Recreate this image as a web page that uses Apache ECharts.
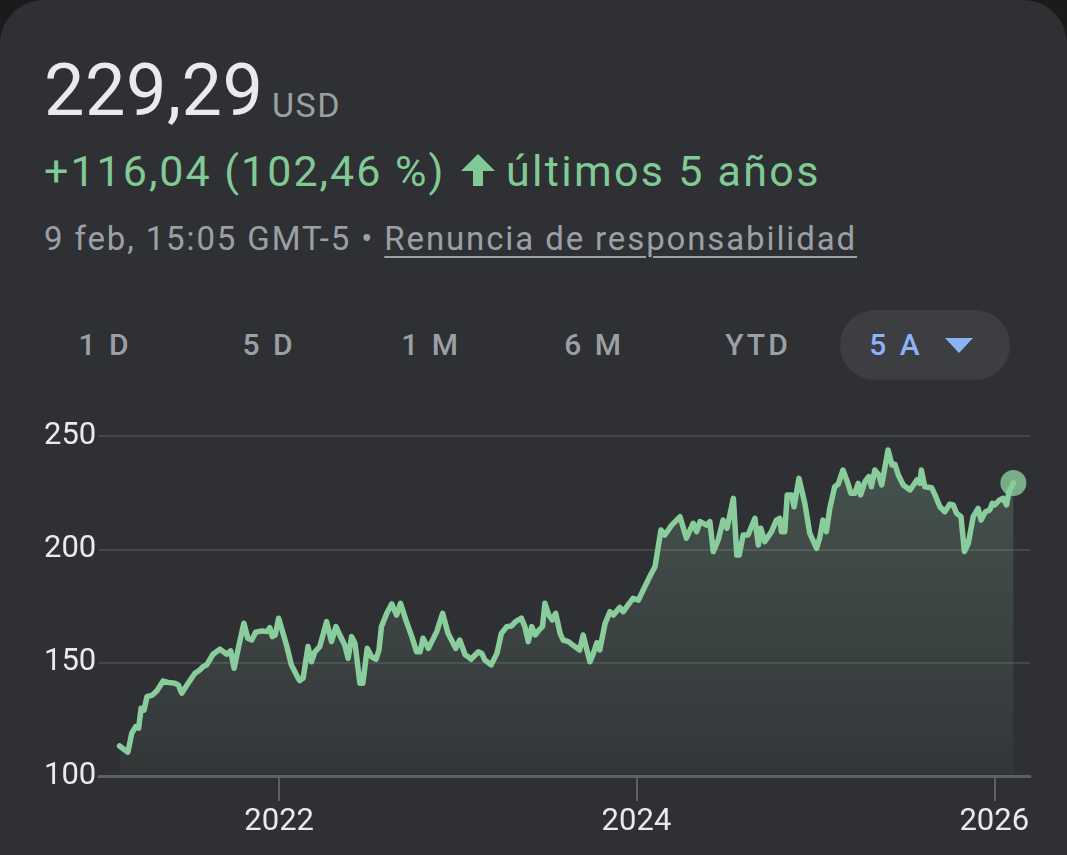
<!DOCTYPE html>
<html>
<head>
<meta charset="utf-8">
<script src="https://cdn.jsdelivr.net/npm/echarts@6/dist/echarts.min.js"></script>
<style>
  html, body { margin:0; padding:0; width:1067px; height:855px; background:#1b1b1c; overflow:hidden; }
  #card { position:absolute; left:0; top:0; width:1067px; height:855px; background:#2f3034; border-radius:44px 44px 0 0; font-family: Roboto, "Noto Sans", sans-serif; }
  .t { position:absolute; white-space:nowrap; line-height:1; }
  #chart { position:absolute; left:0; top:0; width:1067px; height:855px; }
  .btn { position:absolute; top:330px; font-size:30px; line-height:1; letter-spacing:3px; color:#9aa0a6; font-weight:500; transform:translateX(-50%); white-space:nowrap; }
  #pill { position:absolute; left:840px; top:310px; width:170px; height:70px; border-radius:35px; background:#3c3e42; }
  #tri { position:absolute; left:945px; top:338px; width:0; height:0; border-left:14px solid transparent; border-right:14px solid transparent; border-top:15px solid #8ab4f8; }
</style>
</head>
<body>
<div id="card">
  <div class="t" style="left:44px; top:55px; font-size:72px; color:#e8eaed; letter-spacing:0.5px;">229,29</div>
  <div class="t" style="left:272px; top:88px; font-size:34px; color:#9aa0a6; letter-spacing:1.5px;">USD</div>
  <div class="t" style="left:44px; top:150px; font-size:43px; color:#81c995; letter-spacing:2px;">+116,04 (102,46 %)</div>
  <svg style="position:absolute; left:460px; top:152px;" width="36" height="36" viewBox="0 0 36 36"><polygon fill="#81c995" points="18,2 35,19 23,19 23,34 13,34 13,19 1,19"/></svg>
  <div class="t" style="left:506px; top:150px; font-size:43px; color:#81c995; letter-spacing:2.3px;">últimos 5 años</div>
  <div class="t" style="left:44px; top:222px; font-size:33px; color:#9aa0a6; letter-spacing:1.88px;">9 feb, 15:05 GMT-5 • <span style="text-decoration:underline; text-decoration-thickness:2px; text-underline-offset:6px;">Renuncia de responsabilidad</span></div>
  <div id="pill"></div>
  <div class="btn" style="left:105px;">1 D</div>
  <div class="btn" style="left:269px;">5 D</div>
  <div class="btn" style="left:431px;">1 M</div>
  <div class="btn" style="left:594px;">6 M</div>
  <div class="btn" style="left:758px;">YTD</div>
  <div class="btn" style="left:896px; color:#8ab4f8;">5 A</div>
  <div id="tri"></div>
  <div id="chart"></div>
</div>
<script>
const dates = [
 '2021-02-09','2021-02-26','2021-03-06','2021-03-14','2021-03-20','2021-03-25','2021-03-31','2021-04-06','2021-04-17','2021-04-26',
 '2021-05-09','2021-05-19','2021-06-02','2021-06-09','2021-06-16','2021-06-26','2021-07-13','2021-07-23','2021-07-30','2021-08-06',
 '2021-08-19','2021-09-02','2021-09-16','2021-09-24','2021-10-01','2021-10-11','2021-10-21','2021-10-29','2021-11-06','2021-11-14',
 '2021-11-27','2021-12-07','2021-12-13','2021-12-18','2021-12-24','2021-12-31','2022-01-16','2022-01-26','2022-02-09','2022-02-12',
 '2022-02-19','2022-03-01','2022-03-08','2022-03-15','2022-03-25','2022-04-08','2022-04-18','2022-04-27','2022-05-05','2022-05-15',
 '2022-05-22','2022-05-29','2022-06-05','2022-06-15','2022-06-21','2022-06-30','2022-07-09','2022-07-18','2022-07-24','2022-07-29',
 '2022-08-09','2022-08-19','2022-08-29','2022-09-06','2022-09-17','2022-09-29','2022-10-09','2022-10-16','2022-10-22','2022-11-02',
 '2022-11-19','2022-12-01','2022-12-12','2022-12-28','2023-01-05','2023-01-16','2023-01-22','2023-01-28','2023-02-12','2023-02-19',
 '2023-02-25','2023-03-10','2023-03-22','2023-03-31','2023-04-11','2023-04-21','2023-04-29','2023-05-11','2023-05-18','2023-05-25',
 '2023-06-01','2023-06-08','2023-06-16','2023-06-23','2023-06-28','2023-07-06','2023-07-13','2023-07-20','2023-07-29','2023-08-04',
 '2023-08-15','2023-08-28','2023-09-07','2023-09-14','2023-09-28','2023-10-05','2023-10-12','2023-10-18','2023-10-29','2023-11-08',
 '2023-11-15','2023-11-28','2023-12-05','2023-12-15','2023-12-25','2024-01-05','2024-01-15','2024-01-28','2024-02-08','2024-02-20',
 '2024-02-28','2024-03-13','2024-03-30','2024-04-12','2024-04-26','2024-05-03','2024-05-10','2024-05-23','2024-05-30','2024-06-06',
 '2024-06-16','2024-06-26','2024-07-04','2024-07-17','2024-07-20','2024-07-24','2024-07-29','2024-08-06','2024-08-16','2024-08-30',
 '2024-09-06','2024-09-11','2024-09-19','2024-10-03','2024-10-13','2024-10-20','2024-10-23','2024-10-30','2024-11-04','2024-11-13',
 '2024-11-18','2024-11-28','2024-12-10','2024-12-20','2025-01-03','2025-01-10','2025-01-16','2025-01-23','2025-01-30','2025-02-09',
 '2025-02-16','2025-02-26','2025-03-08','2025-03-14','2025-03-22','2025-03-29','2025-04-03','2025-04-12','2025-04-20','2025-04-25',
 '2025-05-02','2025-05-10','2025-05-16','2025-05-29','2025-06-06','2025-06-12','2025-06-19','2025-06-29','2025-07-13','2025-07-27',
 '2025-08-02','2025-08-05','2025-08-09','2025-08-12','2025-08-26','2025-09-02','2025-09-12','2025-09-22','2025-10-02','2025-10-09',
 '2025-10-16','2025-10-25','2025-11-01','2025-11-09','2025-11-19','2025-11-29','2025-12-05','2025-12-14','2025-12-23','2025-12-28',
 '2026-01-02','2026-01-12','2026-01-19','2026-01-26','2026-01-31','2026-02-09'
];
const prices = [
 113.25,110.5,118.9,121.8,121.1,129.9,129.1,135.0,135.7,137.5,
 141.9,141.3,140.9,140.2,136.5,139.9,145.3,146.8,148.3,149.0,
 153.7,156.0,153.7,155.2,147.5,157.8,167.4,160.8,160.0,163.4,
 164.0,163.7,165.4,161.5,162.2,169.6,157.8,149.0,143.1,142.1,
 143.1,157.1,150.4,154.8,157.1,168.1,159.3,165.9,162.2,157.8,
 151.9,161.5,158.5,140.9,140.9,156.3,152.6,151.5,155.6,165.9,
 171.8,175.9,171.0,176.2,168.8,161.5,154.8,154.8,160.8,156.3,
 163.7,171.8,163.0,156.3,160.0,153.5,152.6,151.5,154.8,154.1,
 151.2,149.0,154.1,162.9,165.9,166.2,168.1,169.6,165.9,159.3,
 165.9,162.2,164.4,165.9,176.2,171.0,168.8,171.8,162.9,160.0,
 159.3,157.1,155.6,162.2,150.4,154.1,158.8,155.6,167.4,172.5,
 171.0,174.4,172.5,175.5,178.4,177.6,182.1,187.9,192.4,208.5,
 206.3,210.7,214.4,204.9,211.5,207.8,212.2,210.7,212.2,199.0,
 204.1,212.9,209.3,222.5,222.5,197.5,197.5,206.3,206.3,213.7,
 201.9,209.3,203.4,207.8,212.9,213.7,207.8,207.8,224.0,224.0,
 218.8,231.3,220.3,207.1,200.4,205.6,212.9,207.8,218.1,227.6,
 228.7,235.0,229.1,224.7,224.7,229.1,224.0,229.9,232.1,227.6,
 235.0,232.8,228.4,243.8,237.2,237.5,232.8,228.4,226.2,230.6,
 229.1,235.0,235.0,227.6,227.2,224.0,218.8,216.6,219.9,219.6,
 215.9,214.4,199.0,202.7,214.4,218.1,212.9,216.6,217.4,220.3,
 219.6,221.8,222.5,219.6,225.4,229.29
];
const yMin = 100, yMax = 250, yStep = 50;
const xTickDates = ['2022-01-01','2024-01-01','2026-01-01'];
const xRange = ['2020-12-29','2026-03-15'];

const toTs = s => { const p = s.split('-').map(Number); return new Date(p[0], p[1]-1, p[2]).getTime(); };
const tickTs = xTickDates.map(toTs);
const lastIdx = dates.length - 1;

const chart = echarts.init(document.getElementById('chart'), null, {renderer:'canvas'});
chart.setOption({
  backgroundColor: 'transparent',
  animation: false,
  grid: { left: 99, right: 37, top: 436, bottom: 79, containLabel: false, outerBoundsMode: 'none' },
  xAxis: {
    type: 'value',
    min: toTs(xRange[0]),
    max: toTs(xRange[1]),
    axisLine: { show: true, onZero: false, lineStyle: { color: '#5f6064', width: 3 } },
    axisTick: { show: true, customValues: tickTs, length: 25, lineStyle: { color: '#5f6064', width: 2 } },
    axisLabel: { customValues: tickTs, formatter: v => String(new Date(v).getFullYear()), color: '#e8eaed', fontSize: 31, fontFamily: 'Roboto', margin: 31, showMinLabel: true, showMaxLabel: true },
    splitLine: { show: false }
  },
  yAxis: {
    type: 'value',
    min: yMin, max: yMax, interval: yStep,
    axisLine: { show: false },
    axisTick: { show: false },
    axisLabel: { align: 'left', margin: 55, color: '#e8eaed', fontSize: 31, fontFamily: 'Roboto' },
    splitLine: { lineStyle: { color: '#45464a', width: 2 } }
  },
  series: [
    {
      type: 'line',
      data: dates.map((d, i) => [toTs(d), prices[i]]),
      showSymbol: false,
      symbol: 'none',
      lineStyle: { color: '#8acd9c', width: 5.5, join: 'round', cap: 'round' },
      areaStyle: {
        color: new echarts.graphic.LinearGradient(0, 0, 0, 1, [
          { offset: 0, color: 'rgba(130,175,145,0.40)' },
          { offset: 1, color: 'rgba(130,175,145,0.07)' }
        ])
      },
      z: 2
    },
    {
      type: 'scatter',
      data: [[toTs(dates[lastIdx]), prices[lastIdx]]],
      symbol: 'circle',
      symbolSize: 26,
      itemStyle: { color: '#8acd9c' },
      z: 3
    }
  ]
});
</script>
</body>
</html>
